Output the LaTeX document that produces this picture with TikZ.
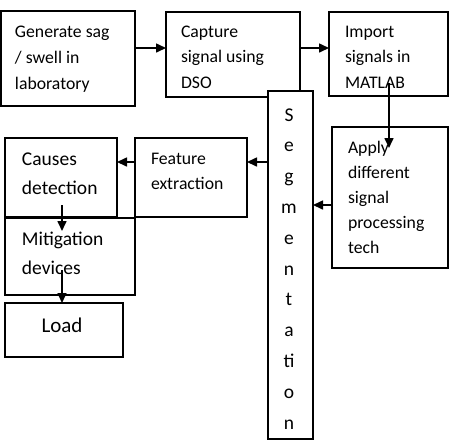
\documentclass[tikz,border=0pt]{standalone}
\usepackage{fontspec}
\setmainfont{Carlito}
\usetikzlibrary{arrows.meta}
\begin{document}
\begin{tikzpicture}[x=1pt,y=-1pt,
  box/.style={draw=black,line width=1.3pt,fill=white,rectangle,inner sep=0pt,outer sep=0pt,anchor=north west},
  txt/.style={inner sep=0pt,outer sep=0pt,anchor=base west,align=left,font=\fontsize{17.7pt}{25.5pt}\selectfont},
  txtb/.style={inner sep=0pt,outer sep=0pt,anchor=base west,align=left,font=\fontsize{19.5pt}{28.5pt}\selectfont},
  arr/.style={line width=1.6pt,-{Triangle[length=10pt,width=9pt]}}]
\useasboundingbox (0,0) rectangle (451,448);
% boxes
\node[box,minimum width=134pt,minimum height=95pt] (gen) at (1,11) {};
\node[box,minimum width=134pt,minimum height=85pt] (cap) at (166,12) {};
\node[box,minimum width=119pt,minimum height=84pt] (imp) at (329,12) {};
\node[box,minimum width=116pt,minimum height=141pt] (app) at (332,127) {};
\node[box,minimum width=112pt,minimum height=79pt] (fea) at (135,138) {};
\node[box,minimum width=112pt,minimum height=79pt] (cau) at (5,138) {};
\node[box,minimum width=130pt,minimum height=77pt] (mit) at (5,218) {};
\node[box,minimum width=118pt,minimum height=54pt] (load) at (5,303) {};
\node[box,minimum width=45pt,minimum height=348pt] (seg) at (268,91) {};
% texts (anchored at the baseline of the last line)
\node[txt,font=\fontsize{17.7pt}{26pt}\selectfont] (tgen) at (15,89) {Generate sag\\/ swell in\\laboratory};
\node[txt] (tcap) at (181,88) {Capture\\signal using\\DSO};
\node[txt] (timp) at (345,88) {Import\\signals in\\MATLAB};
\node[txt,font=\fontsize{17.7pt}{25pt}\selectfont] (tapp) at (348,253) {Apply\\different\\signal\\processing\\tech};
\node[txt,font=\fontsize{17.7pt}{25pt}\selectfont] (tfea) at (151,189) {Feature\\extraction};
\node[txtb] (tcau) at (22,194) {Causes\\detection};
\node[txtb,font=\fontsize{19.5pt}{29pt}\selectfont] (tmit) at (22,274) {Mitigation\\devices};
\node[txt,anchor=base,font=\fontsize{21pt}{25pt}\selectfont] (tload) at (62,332) {Load};
\node[inner sep=0pt,anchor=base,align=center,font=\fontsize{19.5pt}{30.8pt}\selectfont] (tseg) at (289,429) {S\\e\\g\\m\\e\\n\\t\\a\\ti\\o\\n};
% connectors
\coordinate (impa) at (389,83);
\coordinate (appa) at (389,148);
\coordinate (caua) at (62,205);
\coordinate (mita) at (62,231);
\coordinate (mitb) at (62,270);
\draw[arr] (gen.east |- 0,48) -- (cap.west |- 0,48);
\draw[arr] (cap.east |- 0,48) -- (imp.west |- 0,48);
\draw[arr] (impa) -- (appa);
\draw[arr] (app.west |- 0,205) -- (seg.east |- 0,205);
\draw[arr] (seg.west |- 0,162) -- (fea.east |- 0,162);
\draw[arr] (fea.west |- 0,162) -- (cau.east |- 0,162);
\draw[arr] (caua) -- (mita);
\draw[arr] (mitb) -- (load.north -| mitb);
\end{tikzpicture}
\end{document}
